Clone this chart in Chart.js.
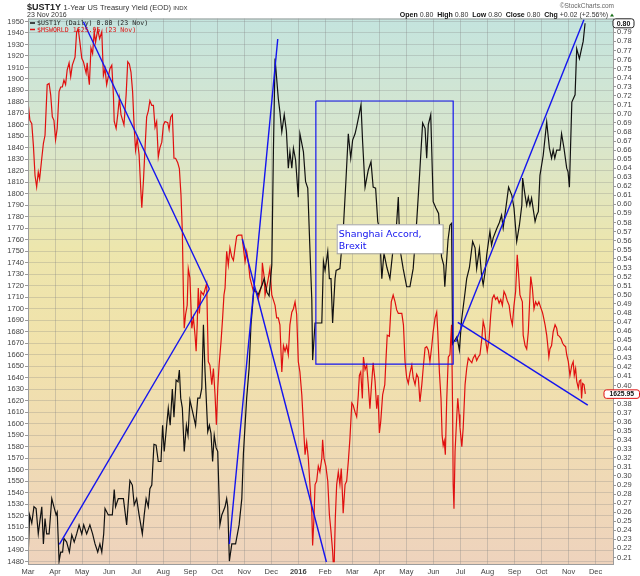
<!DOCTYPE html>
<html>
<head>
<meta charset="utf-8">
<title>$UST1Y vs $MSWORLD</title>
<script src="https://cdn.jsdelivr.net/npm/chart.js"></script>
<style>
  html, body { margin:0; padding:0; background:#fff; }
  #wrap { width:640px; height:576px; }
</style>
</head>
<body>
<div id="wrap"><canvas id="grafico" width="640" height="576"></canvas></div>
<script>
// eje x: meses desde 1 Mar 2015
var meses = ['Mar','Apr','May','Jun','Jul','Aug','Sep','Oct','Nov','Dec','2016',
             'Feb','Mar','Apr','May','Jun','Jul','Aug','Sep','Oct','Nov','Dec'];

// $UST1Y (eje derecho)
var ustMeses = [0.01,0.06,0.14,0.22,0.30,0.38,0.47,0.51,0.57,0.63,0.69,0.78,0.88,0.96,1.04,1.08,1.15,1.21,1.28,1.33,
  1.43,1.53,1.62,1.71,1.80,1.89,1.99,2.06,2.17,2.29,2.39,2.48,2.58,2.66,2.73,2.80,2.85,2.97,3.12,3.19,
  3.24,3.34,3.53,3.65,3.77,3.86,3.93,4.02,4.11,4.23,4.30,4.37,4.45,4.51,4.58,4.66,4.74,4.82,4.92,4.98,
  5.04,5.13,5.19,5.26,5.34,5.40,5.48,5.55,5.60,5.65,5.71,5.78,5.86,5.92,5.99,6.12,6.20,6.28,6.36,6.43,
  6.49,6.55,6.65,6.71,6.77,6.83,6.89,6.96,7.02,7.10,7.17,7.29,7.35,7.39,7.45,7.54,7.68,7.81,7.91,7.97,
  8.09,8.18,8.25,8.36,8.51,8.66,8.74,8.84,8.92,9.02,9.08,9.14,9.26,9.32,9.39,9.48,9.56,9.63,9.69,9.76,
  9.82,9.90,10.00,10.06,10.19,10.27,10.35,10.43,10.50,10.53,10.62,10.87,10.93,10.99,11.09,11.15,11.21,11.27,11.36,11.40,
  11.54,11.66,11.76,11.85,11.94,12.01,12.10,12.16,12.25,12.32,12.38,12.47,12.59,12.69,12.77,12.86,12.94,13.00,13.09,13.17,
  13.28,13.39,13.49,13.58,13.70,13.76,13.88,14.01,14.13,14.25,14.38,14.48,14.60,14.69,14.75,14.81,14.90,14.99,15.09,15.19,
  15.30,15.38,15.42,15.54,15.61,15.67,15.71,15.79,15.87,15.96,16.04,16.17,16.23,16.33,16.45,16.54,16.60,16.70,16.78,16.84,
  16.91,16.97,17.09,17.15,17.21,17.34,17.44,17.52,17.58,17.71,17.78,17.90,17.98,18.08,18.18,18.27,18.30,18.39,18.45,18.51,
  18.57,18.63,18.76,18.82,18.88,18.94,19.06,19.19,19.29,19.37,19.43,19.49,19.56,19.68,19.74,19.83,19.93,19.98,20.03,20.12,
  20.24,20.30,20.40,20.48,20.54,20.61];
var ustValores = [0.216,0.257,0.248,0.266,0.264,0.236,0.257,0.266,0.225,0.253,0.236,0.236,0.275,0.266,0.257,0.260,0.206,0.216,0.216,0.231,
  0.227,0.216,0.235,0.227,0.236,0.246,0.236,0.246,0.236,0.246,0.236,0.225,0.216,0.225,0.216,0.236,0.264,0.257,0.257,0.285,
  0.266,0.275,0.275,0.246,0.295,0.290,0.268,0.275,0.257,0.236,0.257,0.275,0.266,0.286,0.290,0.335,0.334,0.316,0.316,0.356,
  0.327,0.356,0.375,0.356,0.396,0.365,0.406,0.404,0.417,0.386,0.375,0.327,0.356,0.345,0.384,0.367,0.356,0.386,0.386,0.397,
  0.467,0.415,0.349,0.356,0.347,0.316,0.345,0.331,0.327,0.246,0.257,0.266,0.275,0.266,0.206,0.225,0.225,0.246,0.275,0.325,
  0.386,0.419,0.467,0.507,0.500,0.511,0.518,0.503,0.499,0.533,0.660,0.761,0.717,0.702,0.680,0.699,0.681,0.640,0.658,0.640,
  0.662,0.649,0.608,0.678,0.658,0.625,0.618,0.551,0.494,0.428,0.469,0.469,0.537,0.527,0.548,0.518,0.518,0.469,0.518,0.527,
  0.529,0.570,0.625,0.678,0.651,0.671,0.678,0.686,0.699,0.710,0.669,0.619,0.638,0.647,0.619,0.618,0.581,0.574,0.518,0.546,
  0.530,0.518,0.546,0.552,0.608,0.551,0.529,0.509,0.509,0.529,0.581,0.629,0.690,0.684,0.651,0.688,0.699,0.603,0.596,0.590,
  0.542,0.533,0.509,0.561,0.577,0.579,0.446,0.450,0.454,0.439,0.472,0.503,0.518,0.530,0.559,0.552,0.529,0.551,0.522,0.511,
  0.525,0.544,0.570,0.555,0.563,0.573,0.580,0.588,0.574,0.603,0.619,0.610,0.596,0.559,0.577,0.599,0.629,0.610,0.599,0.608,
  0.599,0.607,0.581,0.588,0.592,0.632,0.654,0.691,0.662,0.651,0.660,0.651,0.660,0.660,0.678,0.662,0.640,0.636,0.619,0.713,
  0.721,0.772,0.761,0.772,0.780,0.800];

// $MSWORLD (eje izquierdo)
var worldMeses = [0.00,0.07,0.14,0.20,0.26,0.32,0.38,0.43,0.51,0.57,0.63,0.71,0.78,0.84,0.90,0.96,1.02,1.08,1.15,1.21,
  1.27,1.33,1.39,1.45,1.52,1.58,1.64,1.74,1.80,1.86,1.92,1.99,2.05,2.15,2.19,2.23,2.27,2.33,2.39,2.45,
  2.50,2.58,2.65,2.73,2.79,2.85,2.91,3.03,3.10,3.16,3.19,3.26,3.32,3.38,3.44,3.55,3.63,3.69,3.75,3.81,
  3.87,3.93,3.98,4.04,4.11,4.17,4.21,4.27,4.33,4.39,4.45,4.51,4.58,4.64,4.70,4.76,4.82,4.88,4.95,5.01,
  5.07,5.17,5.22,5.28,5.34,5.40,5.46,5.54,5.60,5.66,5.71,5.75,5.78,5.83,5.89,5.93,5.99,6.06,6.12,6.18,
  6.22,6.26,6.30,6.34,6.40,6.49,6.61,6.67,6.73,6.80,6.86,6.92,6.97,7.02,7.07,7.14,7.20,7.25,7.29,7.35,
  7.41,7.47,7.54,7.60,7.66,7.72,7.78,7.91,7.97,8.03,8.09,8.15,8.21,8.34,8.46,8.52,8.65,8.67,8.74,8.77,
  8.88,8.95,9.02,9.14,9.20,9.26,9.32,9.39,9.45,9.51,9.57,9.63,9.69,9.76,9.82,9.88,9.94,10.00,10.06,10.13,
  10.19,10.25,10.31,10.37,10.43,10.50,10.53,10.58,10.62,10.68,10.74,10.80,10.87,10.90,10.95,11.02,11.09,11.15,11.21,11.27,
  11.29,11.33,11.37,11.42,11.48,11.54,11.59,11.64,11.66,11.73,11.79,11.85,11.91,11.98,12.03,12.10,12.16,12.22,12.26,12.31,
  12.37,12.41,12.47,12.53,12.59,12.65,12.71,12.77,12.84,12.90,12.95,13.00,13.05,13.12,13.20,13.24,13.29,13.37,13.44,13.51,
  13.58,13.64,13.70,13.83,13.89,13.95,14.01,14.07,14.13,14.20,14.25,14.32,14.38,14.44,14.50,14.57,14.62,14.69,14.75,14.81,
  14.87,14.94,14.99,15.06,15.12,15.16,15.22,15.28,15.32,15.36,15.40,15.44,15.49,15.55,15.61,15.67,15.71,15.73,15.76,15.80,
  15.86,15.90,15.95,15.98,16.05,16.10,16.17,16.23,16.29,16.35,16.42,16.47,16.54,16.60,16.66,16.72,16.79,16.84,16.90,16.94,
  16.99,17.06,17.12,17.18,17.24,17.30,17.36,17.43,17.49,17.55,17.61,17.67,17.73,17.80,17.86,17.92,17.98,18.04,18.10,18.16,
  18.20,18.29,18.32,18.39,18.45,18.51,18.60,18.66,18.72,18.78,18.84,18.90,18.97,19.03,19.06,19.13,19.19,19.23,19.27,19.31,
  19.37,19.43,19.50,19.56,19.60,19.66,19.72,19.78,19.84,19.89,19.93,19.99,20.05,20.12,20.17,20.21,20.26,20.30,20.36,20.40,
  20.45,20.48,20.52,20.57,20.62];
var worldValores = [1880,1864,1861,1842,1816,1806,1819,1813,1831,1844,1851,1895,1896,1886,1867,1864,1847,1857,1889,1893,
  1893,1899,1895,1908,1914,1902,1912,1919,1941,1943,1932,1918,1915,1905,1914,1903,1895,1927,1922,1941,
  1932,1943,1935,1941,1903,1909,1895,1909,1912,1886,1863,1857,1869,1883,1869,1860,1886,1915,1913,1906,
  1889,1857,1838,1848,1834,1805,1788,1811,1840,1867,1872,1881,1877,1877,1858,1863,1832,1840,1845,1860,
  1863,1862,1856,1867,1869,1831,1831,1827,1822,1799,1767,1712,1683,1695,1703,1735,1727,1683,1692,1677,
  1663,1686,1718,1696,1715,1712,1722,1654,1651,1634,1648,1625,1599,1631,1651,1671,1692,1712,1718,1750,
  1738,1753,1745,1742,1753,1763,1764,1764,1753,1741,1750,1741,1727,1715,1715,1709,1721,1740,1727,1712,
  1725,1735,1712,1703,1692,1692,1686,1645,1668,1663,1668,1660,1686,1697,1700,1706,1695,1654,1645,1625,
  1599,1573,1584,1570,1547,1523,1494,1518,1547,1550,1563,1558,1570,1586,1570,1563,1550,1521,1506,1489,
  1480,1480,1518,1547,1558,1547,1561,1535,1522,1547,1550,1567,1587,1618,1616,1610,1606,1625,1642,1645,
  1622,1658,1647,1651,1634,1613,1634,1653,1637,1613,1625,1592,1602,1625,1634,1654,1677,1676,1706,1712,
  1706,1699,1696,1696,1686,1654,1640,1635,1644,1651,1640,1634,1643,1640,1619,1634,1648,1666,1667,1664,
  1654,1668,1680,1692,1697,1680,1645,1622,1590,1581,1585,1573,1620,1658,1660,1686,1610,1547,1526,1576,
  1605,1622,1608,1597,1580,1596,1634,1648,1657,1655,1653,1657,1660,1655,1658,1660,1674,1689,1683,1671,
  1663,1674,1695,1709,1712,1708,1710,1705,1708,1703,1715,1712,1707,1703,1692,1686,1703,1715,1747,1727,
  1712,1706,1677,1668,1665,1680,1728,1718,1700,1706,1703,1706,1701,1697,1694,1686,1677,1668,1658,1665,
  1668,1680,1686,1683,1677,1676,1674,1670,1668,1667,1660,1654,1642,1651,1654,1642,1648,1637,1631,1637,
  1638,1622,1635,1634,1626];

// lineas de tendencia dibujadas a mano: [mes1, valor1, mes2, valor2] sobre el eje izquierdo
var lineasAzules = [
  [2.05, 1949.8, 6.71, 1717.2],
  [6.71, 1717.2, 1.16, 1495.0],
  [7.45, 1495.3, 9.24, 1934.8],
  [7.93, 1760.7, 11.04, 1479.6],
  [15.82, 1671.1, 20.57, 1951.7],
  [15.90, 1688.2, 20.71, 1616.2]
];
// recuadro Shanghai Accord / Brexit
var recuadro = [10.65, 1880.8, 15.73, 1651.9];
var notaTexto = ['Shanghai Accord,', 'Brexit'];
var notaPos = [11.42, 1773.5];

var ultimoUst = 0.80;
var ultimoWorld = 1625.95;

var ticksIzq = [];
for (var v = 1480; v <= 1950; v += 10) { ticksIzq.push(v); }
var ticksDer = [];
for (var k = 21; k <= 80; k++) { ticksDer.push(k / 100); }

function armarPuntos(xs, ys){
  var pts = [];
  for (var i = 0; i < xs.length; i++) { pts.push({x: xs[i], y: ys[i]}); }
  return pts;
}

var AZUL = '#1414ee';
var FUENTE = '"Liberation Sans", Arial, sans-serif';

var datasets = [];
lineasAzules.forEach(function(l){
  datasets.push({ data: [{x:l[0], y:l[1]}, {x:l[2], y:l[3]}], yAxisID:'yL',
    borderColor: AZUL, borderWidth: 1.4, pointRadius: 0, order: 0 });
});
datasets.push({ data: [
    {x:recuadro[0], y:recuadro[1]}, {x:recuadro[2], y:recuadro[1]},
    {x:recuadro[2], y:recuadro[3]}, {x:recuadro[0], y:recuadro[3]},
    {x:recuadro[0], y:recuadro[1]}],
  yAxisID:'yL', borderColor: AZUL, borderWidth: 1.2, pointRadius: 0, order: 0 });
datasets.push({ label:'$UST1Y', data: armarPuntos(ustMeses, ustValores), yAxisID:'yR',
  borderColor:'#111', borderWidth:1.2, pointRadius:0, order: 1 });
datasets.push({ label:'$MSWORLD', data: armarPuntos(worldMeses, worldValores), yAxisID:'yL',
  borderColor:'#e01010', borderWidth:1.2, pointRadius:0, order: 2 });

function textoPartes(ctx, partes, x, y){
  partes.forEach(function(p){
    ctx.font = p[1];
    ctx.fillStyle = p[2];
    ctx.fillText(p[0], x, y);
    x += ctx.measureText(p[0]).width;
  });
  return x;
}

function cajaRedonda(ctx, x, y, w, h, r){
  ctx.beginPath();
  ctx.moveTo(x + r, y);
  ctx.lineTo(x + w - r, y);
  ctx.quadraticCurveTo(x + w, y, x + w, y + r);
  ctx.lineTo(x + w, y + h - r);
  ctx.quadraticCurveTo(x + w, y + h, x + w - r, y + h);
  ctx.lineTo(x + r, y + h);
  ctx.quadraticCurveTo(x, y + h, x, y + h - r);
  ctx.lineTo(x, y + r);
  ctx.quadraticCurveTo(x, y, x + r, y);
  ctx.closePath();
}

var decorado = {
  id: 'decorado',
  beforeDraw: function(chart){
    var ctx = chart.ctx, a = chart.chartArea;
    ctx.save();
    ctx.fillStyle = '#fff';
    ctx.fillRect(0, 0, chart.width, chart.height);
    var g = ctx.createLinearGradient(0, a.top, 0, a.bottom);
    g.addColorStop(0, '#c4e4de');
    g.addColorStop(0.22, '#d8e6cd');
    g.addColorStop(0.42, '#ede6ad');
    g.addColorStop(0.6, '#f1e2ab');
    g.addColorStop(1, '#eed3bd');
    ctx.fillStyle = g;
    ctx.fillRect(a.left, a.top, a.right - a.left, a.bottom - a.top);
    ctx.restore();
  },
  afterDraw: function(chart){
    var ctx = chart.ctx, a = chart.chartArea;
    var sx = chart.scales.x, sl = chart.scales.yL, sr = chart.scales.yR;
    ctx.save();

    // borde del area
    ctx.strokeStyle = '#9c9c9c';
    ctx.lineWidth = 1;
    ctx.strokeRect(a.left + 0.5, a.top + 0.5, a.right - a.left - 1, a.bottom - a.top - 1);

    // titulo
    ctx.textBaseline = 'alphabetic';
    ctx.textAlign = 'left';
    textoPartes(ctx, [
      ['$UST1Y ', 'bold 9px ' + FUENTE, '#222'],
      ['1-Year US Treasury Yield (EOD) ', '7.5px ' + FUENTE, '#333'],
      ['INDX', '6px ' + FUENTE, '#333']
    ], 27, 10);
    ctx.font = '7px ' + FUENTE;
    ctx.fillStyle = '#333';
    ctx.fillText('23 Nov 2016', 27, 17);

    // esquina derecha
    ctx.textAlign = 'right';
    ctx.font = '6.5px ' + FUENTE;
    ctx.fillStyle = '#666';
    ctx.fillText('\u00a9StockCharts.com', 614, 8);
    ctx.textAlign = 'left';
    var partes = [
      ['Open', 'bold 7px ' + FUENTE, '#111'], [' 0.80  ', '7px ' + FUENTE, '#333'],
      ['High', 'bold 7px ' + FUENTE, '#111'], [' 0.80  ', '7px ' + FUENTE, '#333'],
      ['Low', 'bold 7px ' + FUENTE, '#111'], [' 0.80  ', '7px ' + FUENTE, '#333'],
      ['Close', 'bold 7px ' + FUENTE, '#111'], [' 0.80  ', '7px ' + FUENTE, '#333'],
      ['Chg', 'bold 7px ' + FUENTE, '#111'], [' +0.02 (+2.56%)', '7px ' + FUENTE, '#333']
    ];
    var ancho = 0;
    partes.forEach(function(p){ ctx.font = p[1]; ancho += ctx.measureText(p[0]).width; });
    textoPartes(ctx, partes, 608 - ancho, 17);
    ctx.fillStyle = '#1a6e1a';
    ctx.beginPath();
    ctx.moveTo(610, 16.5); ctx.lineTo(614, 16.5); ctx.lineTo(612, 13.5); ctx.closePath();
    ctx.fill();

    // leyenda dentro del grafico
    ctx.font = '6.6px "DejaVu Sans Mono", monospace';
    ctx.lineWidth = 1.5;
    ctx.strokeStyle = '#111';
    ctx.beginPath(); ctx.moveTo(30, 23); ctx.lineTo(35, 23); ctx.stroke();
    ctx.fillStyle = '#222';
    ctx.fillText('$UST1Y (Daily) ' + ultimoUst.toFixed(2) + ' (23 Nov)', 37, 25.3);
    ctx.strokeStyle = '#e01010';
    ctx.beginPath(); ctx.moveTo(30, 29.5); ctx.lineTo(35, 29.5); ctx.stroke();
    ctx.fillStyle = '#e01010';
    ctx.fillText('$MSWORLD ' + ultimoWorld.toFixed(2) + ' (23 Nov)', 37, 31.8);

    // nota
    var nx = sx.getPixelForValue(notaPos[0]), ny = sl.getPixelForValue(notaPos[1]);
    ctx.fillStyle = '#fff';
    ctx.fillRect(nx, ny, 106, 29);
    ctx.strokeStyle = '#a0a0a0';
    ctx.lineWidth = 1;
    ctx.strokeRect(nx + 0.5, ny + 0.5, 106, 29);
    ctx.fillStyle = AZUL;
    ctx.font = '9.5px "DejaVu Sans", Verdana, sans-serif';
    ctx.fillText(notaTexto[0], nx + 2, ny + 12.5);
    ctx.fillText(notaTexto[1], nx + 2, ny + 24.5);

    // cajas de ultimo valor en el eje derecho
    var y1 = sr.getPixelForValue(ultimoUst);
    ctx.fillStyle = '#fff';
    cajaRedonda(ctx, a.right - 1, y1 - 4.5, 21, 9, 2.5);
    ctx.fill();
    ctx.strokeStyle = '#222';
    ctx.stroke();
    ctx.fillStyle = '#111';
    ctx.font = 'bold 7px ' + FUENTE;
    ctx.textAlign = 'center';
    ctx.textBaseline = 'middle';
    ctx.fillText(ultimoUst.toFixed(2), a.right + 9.5, y1 + 0.3);

    var y2 = sl.getPixelForValue(ultimoWorld);
    ctx.fillStyle = '#fff';
    cajaRedonda(ctx, a.right - 10, y2 - 4, 35.5, 8.5, 2.5);
    ctx.fill();
    ctx.strokeStyle = '#e01010';
    ctx.stroke();
    ctx.fillStyle = '#111';
    ctx.font = 'bold 6.8px ' + FUENTE;
    ctx.fillText(ultimoWorld.toFixed(2), a.right + 7.8, y2 + 0.4);
    ctx.restore();
  }
};

var ctx = document.getElementById('grafico').getContext('2d');
window.grafico = new Chart(ctx, {
  type: 'line',
  data: { datasets: datasets },
  options: {
    responsive: false,
    animation: false,
    layout: { padding: { top: 18.5, left: 0, right: 0, bottom: 0 } },
    plugins: { legend: { display: false }, tooltip: { enabled: false } },
    elements: { line: { tension: 0 } },
    scales: {
      x: {
        type: 'linear', min: 0, max: 21.68,
        afterBuildTicks: function(eje){ eje.ticks = meses.map(function(m, i){ return {value: i}; }); },
        afterFit: function(eje){ eje.height = 11; },
        ticks: {
          autoSkip: false, maxRotation: 0, padding: 2, color: '#444',
          font: function(c){ return { family: FUENTE, size: 7.5, weight: (c.tick && c.tick.value === 10) ? 'bold' : 'normal' }; },
          callback: function(valor){ return meses[valor]; }
        },
        grid: { color: 'rgba(130,130,130,0.32)', drawTicks: false },
        border: { display: false }
      },
      yL: {
        position: 'left', min: 1477, max: 1952.6,
        afterBuildTicks: function(eje){ eje.ticks = ticksIzq.map(function(v){ return {value: v}; }); },
        afterFit: function(eje){ eje.width = 28; },
        ticks: { autoSkip: false, padding: 1, color: '#444', font: { family: FUENTE, size: 7.5 },
          callback: function(valor){ return String(valor); } },
        grid: { color: 'rgba(130,130,130,0.28)', tickLength: 3, tickColor: '#999' },
        border: { display: false }
      },
      yR: {
        position: 'right', min: 0.2017, max: 0.8053,
        afterBuildTicks: function(eje){ eje.ticks = ticksDer.map(function(v){ return {value: v}; }); },
        afterFit: function(eje){ eje.width = 26; },
        ticks: { autoSkip: false, padding: 1, color: '#444', font: { family: FUENTE, size: 7.5 },
          callback: function(valor){ return valor.toFixed(2); } },
        grid: { drawOnChartArea: false, tickLength: 2, tickColor: '#999' },
        border: { display: false }
      }
    }
  },
  plugins: [decorado]
});
</script>
</body>
</html>
